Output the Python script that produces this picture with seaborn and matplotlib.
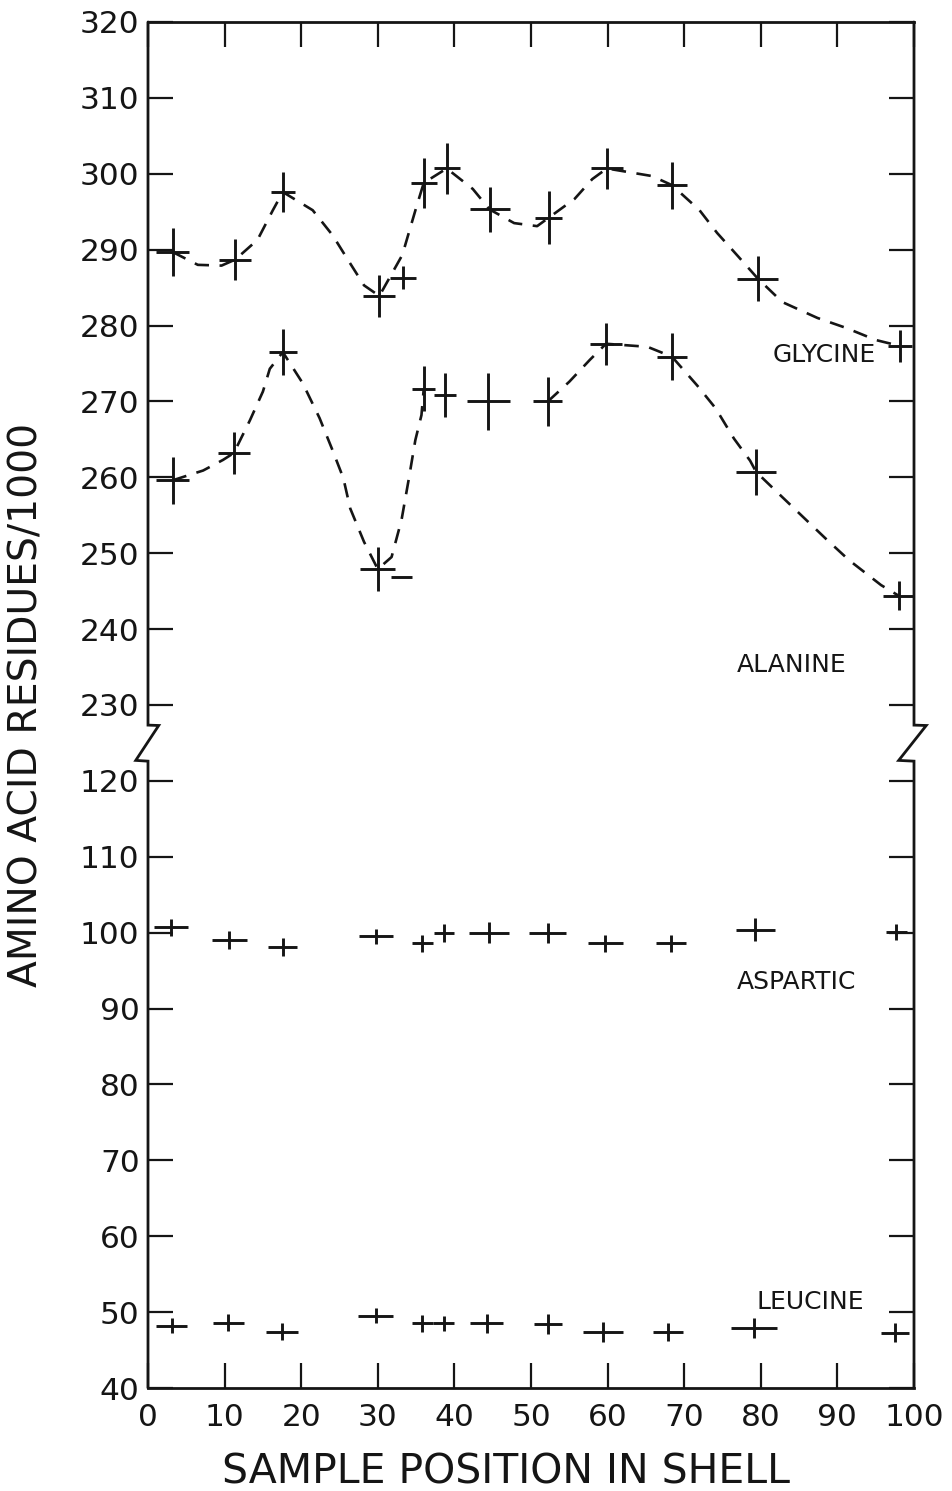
import numpy as np
import pandas as pd
import matplotlib
matplotlib.use("Agg")
import matplotlib.pyplot as plt
import seaborn as sns

sns.set_style("white")
plt.rcParams['font.family'] = ['DejaVu Sans']

# ---------------- data ----------------
gly_x = [3.2, 11.4, 17.6, 30.2, 33.3, 36.0, 39.0, 44.6, 52.3, 59.9, 68.4, 79.6, 98.2]
gly_y = [289.7, 288.7, 297.6, 283.9, 286.3, 298.8, 300.7, 295.3, 294.2, 300.7, 298.5, 286.2, 277.3]
gly_xerr = [2.2, 2.1, 1.6, 2.1, 1.7, 1.7, 1.7, 2.6, 1.8, 2.1, 2.0, 2.7, 1.6]
gly_yerr = [3.2, 2.7, 2.7, 2.8, 1.5, 3.3, 3.4, 3.0, 3.5, 2.7, 3.1, 3.0, 2.1]

ala_x = [3.2, 11.2, 17.6, 30.0, 33.1, 36.0, 38.8, 44.4, 52.2, 59.8, 68.4, 79.4, 98.0]
ala_y = [259.6, 263.2, 276.5, 247.9, 246.9, 271.7, 270.8, 270.0, 270.0, 277.6, 275.9, 260.7, 244.4]
ala_xerr = [2.1, 2.1, 1.8, 2.3, 1.4, 1.5, 1.4, 2.8, 1.9, 2.1, 2.0, 2.6, 2.1]
ala_yerr = [3.1, 2.8, 3.0, 2.9, 0.0, 3.0, 2.9, 3.8, 3.2, 2.8, 3.1, 3.0, 1.9]

asp_x = [3.0, 10.6, 17.6, 29.8, 35.8, 38.7, 44.5, 52.2, 59.7, 68.3, 79.3, 97.7]
asp_y = [100.7, 99.0, 98.1, 99.5, 98.6, 100.0, 100.0, 100.0, 98.6, 98.6, 100.4, 100.1]
asp_xerr = [2.2, 2.3, 1.9, 2.2, 1.4, 1.3, 2.6, 2.4, 2.3, 2.0, 2.6, 1.4]
asp_yerr = [1.1, 1.2, 1.2, 1.0, 1.1, 1.2, 1.4, 1.3, 1.1, 1.1, 1.5, 1.1]

leu_x = [3.1, 10.5, 17.5, 29.7, 35.8, 38.6, 44.2, 52.2, 59.4, 67.9, 79.1, 97.5]
leu_y = [48.2, 48.6, 47.4, 49.5, 48.5, 48.5, 48.5, 48.4, 47.4, 47.4, 47.9, 47.3]
leu_xerr = [2.0, 2.0, 2.1, 2.3, 1.4, 1.4, 2.2, 1.8, 2.6, 2.0, 3.0, 1.8]
leu_yerr = [1.0, 1.1, 1.1, 1.0, 1.1, 1.0, 1.3, 1.3, 1.3, 1.2, 1.3, 1.2]

# hand-drawn dashed trend curves
gly_curve_x = [3.2, 6.5, 9.6, 11.4, 14.3, 16.3, 17.6, 21.5, 24.1, 26.2, 28.2, 30.2, 33.2, 35.0,
               36.0, 39.0, 42.4, 44.6, 47.8, 50.8, 52.3, 55.7, 58.0, 59.9, 65.8, 68.4, 72.0,
               74.3, 77.1, 79.6, 82.8, 87.4, 91.1, 95.0, 98.2]
gly_curve_y = [289.7, 288.0, 287.9, 288.7, 291.3, 295.2, 297.6, 295.2, 291.9, 288.5, 285.3, 283.9,
               289.3, 295.5, 298.8, 300.7, 298.0, 295.3, 293.5, 293.1, 294.2, 296.7, 299.3, 300.7,
               299.7, 298.5, 295.2, 292.2, 289.05, 286.2, 283.1, 281.0, 279.7, 278.1, 277.3]

ala_curve_x = [3.2, 7.2, 9.8, 11.2, 13.3, 15.0, 15.9, 17.6, 20.2, 22.4, 24.0, 25.5, 26.4, 28.2,
               30.0, 31.8, 33.1, 34.1, 34.9, 35.7, 36.0,
               52.2, 55.0, 57.7, 59.8, 65.2, 68.4, 71.7, 74.1, 76.5, 78.6, 79.4, 82.8, 85.7,
               88.5, 91.5, 95.7, 98.0]
ala_curve_y = [259.6, 260.9, 262.3, 263.2, 267.5, 271.3, 274.3, 276.5, 272.4, 267.8, 263.8, 259.9,
               255.9, 251.5, 247.9, 249.5, 254.4, 260.1, 264.9, 268.2, 271.7,
               270.0, 272.6, 275.5, 277.6, 277.2, 275.9, 272.1, 269.1, 265.1, 262.2, 260.7, 257.4,
               254.6, 251.9, 249.1, 245.8, 244.4]
ala_curve_seg = [0] * 21 + [1] * 17

x_ticks = [0, 10, 20, 30, 40, 50, 60, 70, 80, 90, 100]
y_tick_labels = [40, 50, 60, 70, 80, 90, 100, 110, 120,
                 230, 240, 250, 260, 270, 280, 290, 300, 310, 320]

SHIFT = 100  # broken axis: values >= 230 are drawn 100 units lower

# ---------------- figure ----------------
W, H = 953, 1491
fig = plt.figure(figsize=(W / 100, H / 100), dpi=100)
ax = fig.add_axes([148 / W, 103 / H, 766 / W, 1366 / H])

ink = "#151515"

gly_curve = pd.DataFrame({"x": gly_curve_x, "y": np.array(gly_curve_y) - SHIFT})
ala_curve = pd.DataFrame({"x": ala_curve_x, "y": np.array(ala_curve_y) - SHIFT,
                          "seg": ala_curve_seg})
sns.lineplot(data=gly_curve, x="x", y="y", ax=ax, color=ink, lw=1.9,
             linestyle=(0, (5.5, 4.0)), estimator=None, sort=False)
sns.lineplot(data=ala_curve, x="x", y="y", units="seg", ax=ax, color=ink, lw=1.9,
             linestyle=(0, (5.5, 4.0)), estimator=None, sort=False)


def crosses(x, y, xe, ye, shift=0):
    ax.errorbar(x, np.asarray(y) - shift, xerr=xe, yerr=ye, fmt="none",
                ecolor=ink, elinewidth=2.1, capsize=0)


crosses(gly_x, gly_y, gly_xerr, gly_yerr, SHIFT)
crosses(ala_x, ala_y, ala_xerr, ala_yerr, SHIFT)
crosses(asp_x, asp_y, asp_xerr, asp_yerr)
crosses(leu_x, leu_y, leu_xerr, leu_yerr)

# axes
ax.set_xlim(0, 100)
ax.set_ylim(40, 220)
ax.set_xticks(x_ticks)
ax.set_xticklabels([str(v) for v in x_ticks])
y_pos = [v if v <= 120 else v - SHIFT for v in y_tick_labels]
ax.set_yticks(y_pos)
ax.set_yticklabels([str(v) for v in y_tick_labels])
ax.tick_params(axis="both", direction="in", length=18, width=1.6, color=ink,
               top=True, right=True, left=True, bottom=True,
               labelsize=22.5, labelcolor=ink)
ax.tick_params(axis="y", pad=6)
ax.tick_params(axis="x", pad=11)

for s in ["left", "right"]:
    ax.spines[s].set_visible(False)
for s in ["top", "bottom"]:
    ax.spines[s].set_linewidth(2.0)
    ax.spines[s].set_color(ink)

# spines with zig-zag break marks
ax.plot([0, 0, -1.6, 1.4, 0, 0], [40, 122.6, 122.7, 127.3, 127.35, 220],
        color=ink, lw=2.0, clip_on=False, solid_joinstyle="miter")
ax.plot([100, 100, 98.0, 101.6, 100, 100], [40, 122.6, 122.7, 127.3, 127.35, 220],
        color=ink, lw=2.0, clip_on=False, solid_joinstyle="miter")

# series labels
lab_kw = dict(fontsize=18, color=ink, ha="left", va="center")
ax.text(81.5, 176.1, "GLYCINE", **lab_kw)
ax.text(76.9, 135.3, "ALANINE", **lab_kw)
ax.text(76.9, 93.5, "ASPARTIC", **lab_kw)
ax.text(79.5, 51.3, "LEUCINE", **lab_kw)

ax.set_xlabel("SAMPLE POSITION IN SHELL", fontsize=29.5, color=ink)
ax.xaxis.set_label_coords(0.467, -0.047)
ax.set_ylabel("AMINO ACID RESIDUES/1000", fontsize=28.3, color=ink)
ax.yaxis.label.set_va("center")
ax.yaxis.set_label_coords(-0.159, 0.500)

fig.savefig("out.png", dpi=100, facecolor="white")
